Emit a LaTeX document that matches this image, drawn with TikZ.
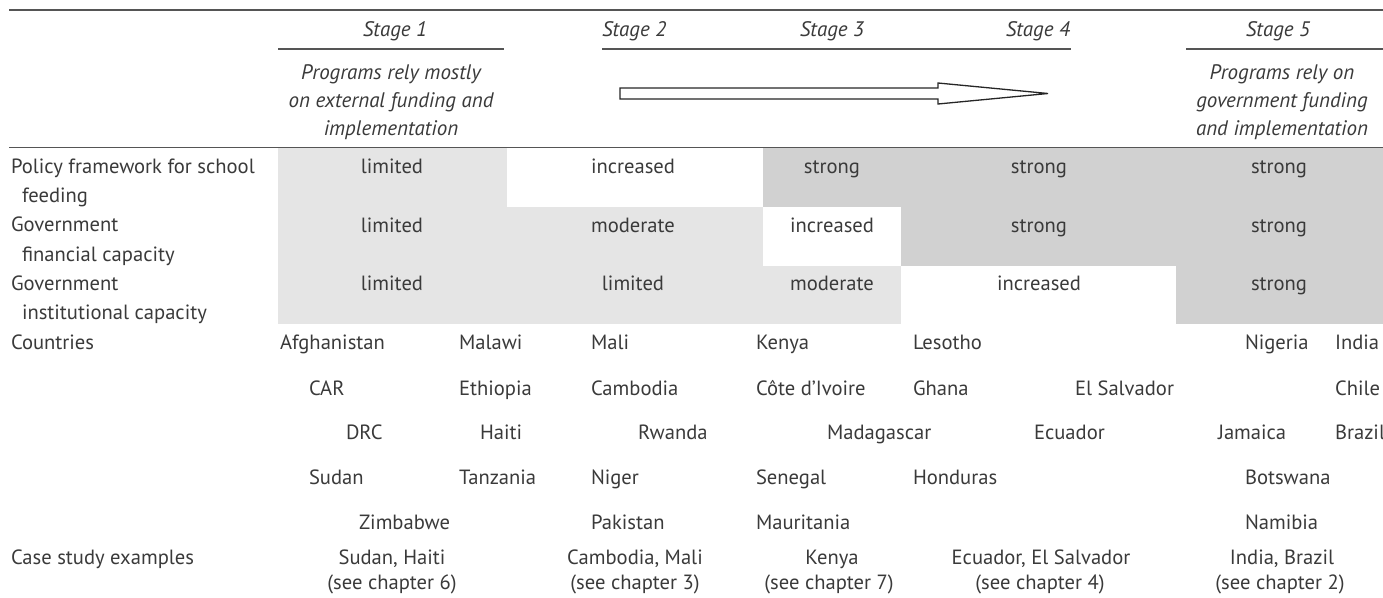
\documentclass[tikz,border=0pt]{standalone}
\usepackage{fontspec}
\setmainfont{PT Sans}
\definecolor{txt}{HTML}{3A3A3A}
\definecolor{lightg}{HTML}{E5E5E5}
\definecolor{darkg}{HTML}{D1D1D1}
\definecolor{rulec}{HTML}{555555}
\begin{document}
\begin{tikzpicture}[x=1pt,y=-1pt,
  every node/.style={inner sep=0pt, outer sep=0pt, text=txt, font=\fontsize{20.6}{24}\selectfont},
  lb/.style={anchor=base west},
  cc/.style={anchor=base},
  hd/.style={anchor=base, font=\fontsize{21}{24}\selectfont\itshape},
  toprule/.style={draw=rulec, line width=1.8pt},
  underl/.style={draw=rulec, line width=1.3pt},
  cellL/.style={fill=lightg, draw=none},
  cellD/.style={fill=darkg, draw=none}]
\useasboundingbox (0,0) rectangle (1383,597);
% shaded cells
\fill[cellL] (278,147) rectangle (507,207);
\fill[cellD] (763,147) rectangle (1383,207);
\fill[cellL] (278,207) rectangle (763,266);
\fill[cellD] (901,207) rectangle (1383,266);
\fill[cellL] (278,266) rectangle (901,324);
\fill[cellD] (1176,266) rectangle (1383,324);
% rules
\coordinate (r1a) at (9,10); \coordinate (r1b) at (1383,10);
\coordinate (r2a) at (9,147.5); \coordinate (r2b) at (1383,147.5);
\draw[toprule] (r1a) -- (r1b);
\draw[toprule] (r2a) -- (r2b);
\coordinate (u1a) at (278,49); \coordinate (u1b) at (504,49);
\coordinate (u2a) at (602,49); \coordinate (u2b) at (1071,49);
\coordinate (u3a) at (1186,49); \coordinate (u3b) at (1383,49);
\draw[underl] (u1a) -- (u1b);
\draw[underl] (u2a) -- (u2b);
\draw[underl] (u3a) -- (u3b);
% headers
\node[hd] (s1) at (395,36) {Stage 1};
\node[hd, anchor=base west] (s2) at (602,36) {Stage 2};
\node[hd] (s3) at (832,36) {Stage 3};
\node[hd, anchor=base east] (s4) at (1070,36) {Stage 4};
\node[hd] (s5) at (1278,36) {Stage 5};
\node[hd] (p1a) at (391,79) {Programs rely mostly};
\node[hd] (p1b) at (391,107) {on external funding and};
\node[hd] (p1c) at (391,135) {implementation};
\node[hd] (p5a) at (1282,79) {Programs rely on};
\node[hd] (p5b) at (1282,107) {government funding};
\node[hd] (p5c) at (1282,135) {and implementation};
% arrow
\draw[line width=1.3pt, draw=black!85, fill=white, line join=miter]
  (620,88) -- (938,88) -- (938,83) -- (1048,93.5) -- (938,104) -- (938,99) -- (620,99) -- cycle;
% row labels
\node[lb] (la1) at (11,173) {Policy framework for school};
\node[lb] (la2) at (22,202) {feeding};
\node[lb] (lb1) at (11,231) {Government};
\node[lb] (lb2) at (22,261) {financial capacity};
\node[lb] (lc1) at (11,290) {Government};
\node[lb] (lc2) at (22,319) {institutional capacity};
\node[lb] (ld) at (11,349) {Countries};
\node[lb] (le) at (11,564) {Case study examples};
% row 1
\node[cc] (a1) at (392,173) {limited};
\node[cc] (a2) at (633,173) {increased};
\node[cc] (a3) at (832,173) {strong};
\node[cc] (a4) at (1039,173) {strong};
\node[cc] (a5) at (1279,173) {strong};
% row 2
\node[cc] (b1) at (392,232) {limited};
\node[cc] (b2) at (633,232) {moderate};
\node[cc] (b3) at (832,232) {increased};
\node[cc] (b4) at (1039,232) {strong};
\node[cc] (b5) at (1279,232) {strong};
% row 3
\node[cc] (c1) at (392,290) {limited};
\node[cc] (c2) at (633,290) {limited};
\node[cc] (c3) at (832,290) {moderate};
\node[cc] (c4) at (1039,290) {increased};
\node[cc] (c5) at (1279,290) {strong};
% countries
\node[lb] (k1) at (280,349) {Afghanistan};
\node[lb] (k2) at (459,349) {Malawi};
\node[lb] (k3) at (591,349) {Mali};
\node[lb] (k4) at (756,349) {Kenya};
\node[lb] (k5) at (913,349) {Lesotho};
\node[lb] (k6) at (1245,349) {Nigeria};
\node[lb] (k7) at (1335,349) {India};
\node[lb] (m1) at (309,395) {CAR};
\node[lb] (m2) at (459,395) {Ethiopia};
\node[lb] (m3) at (591,395) {Cambodia};
\node[lb] (m4) at (756,395) {Côte d’Ivoire};
\node[lb] (m5) at (913,395) {Ghana};
\node[lb] (m6) at (1075,395) {El Salvador};
\node[lb] (m7) at (1335,395) {Chile};
\node[lb] (n1) at (346,439) {DRC};
\node[lb] (n2) at (480,439) {Haiti};
\node[lb] (n3) at (638,439) {Rwanda};
\node[lb] (n4) at (827,439) {Madagascar};
\node[lb] (n5) at (1034,439) {Ecuador};
\node[lb] (n6) at (1218,439) {Jamaica};
\node[lb] (n7) at (1335,439) {Brazil};
\node[lb] (o1) at (309,484) {Sudan};
\node[lb] (o2) at (459,484) {Tanzania};
\node[lb] (o3) at (591,484) {Niger};
\node[lb] (o4) at (756,484) {Senegal};
\node[lb] (o5) at (913,484) {Honduras};
\node[lb] (o6) at (1245,484) {Botswana};
\node[lb] (q1) at (359,529) {Zimbabwe};
\node[lb] (q2) at (591,529) {Pakistan};
\node[lb] (q3) at (756,529) {Mauritania};
\node[lb] (q4) at (1245,529) {Namibia};
% case studies
\node[cc] (e1) at (392,564) {Sudan, Haiti};
\node[cc] (e1b) at (392,589) {(see chapter 6)};
\node[cc] (e2) at (635,564) {Cambodia, Mali};
\node[cc] (e2b) at (635,589) {(see chapter 3)};
\node[cc] (e3) at (832,564) {Kenya};
\node[cc] (e3b) at (829,589) {(see chapter 7)};
\node[cc] (e4) at (1041,564) {Ecuador, El Salvador};
\node[cc] (e4b) at (1040,589) {(see chapter 4)};
\node[cc] (e5) at (1282,564) {India, Brazil};
\node[cc] (e5b) at (1280,589) {(see chapter 2)};
\end{tikzpicture}
\end{document}
